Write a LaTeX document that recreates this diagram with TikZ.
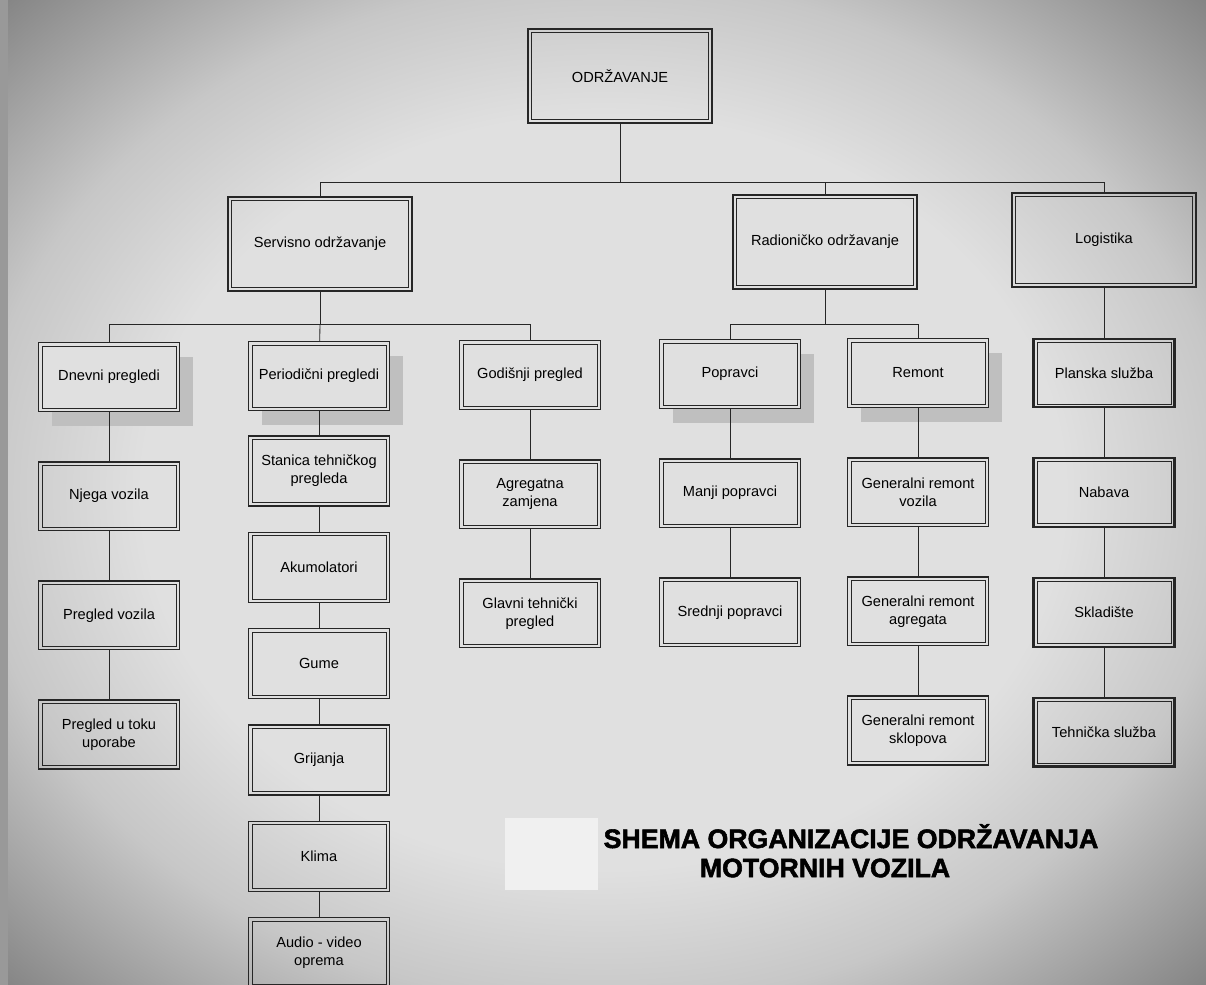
\documentclass[tikz,border=0pt]{standalone}
\usepackage{fontspec}
\setmainfont{Liberation Sans}
\newfontfamily\titlefont[FakeBold=2]{Liberation Sans Bold}
\usepackage{tikz}
\usetikzlibrary{positioning,calc,shadows}

\definecolor{pagein}{gray}{0.88}
\definecolor{pagemid}{gray}{0.78}
\definecolor{pageout}{gray}{0.50}
\pgfdeclareradialshading{vignette}{\pgfpoint{0bp}{0bp}}{color(0bp)=(pagein); color(19bp)=(pagein); color(26bp)=(pagemid); color(36bp)=(pageout); color(50bp)=(pageout)}

\newcommand{\boxfont}{\fontsize{10.4}{12.8}\selectfont}
\newcommand{\titlesize}{\fontsize{19}{24}\selectfont}

\tikzstyle{line} = [draw,line width=0.6pt,black!85]
\tikzstyle{box} = [rectangle,draw=black!85,line width=1.1pt,minimum width=3.525cm,minimum height=1.72cm,inner sep=2pt,align=center,font=\boxfont,
  path picture={\draw[line width=0.45pt,black!85] ([shift={(2.4pt,2.4pt)}]path picture bounding box.south west) rectangle ([shift={(-2.4pt,-2.4pt)}]path picture bounding box.north east);}]
\tikzstyle{bigbox} = [box,minimum width=4.6cm,minimum height=2.35cm]
\tikzstyle{tallbox} = [box,minimum height=1.75cm]
\tikzstyle{heavybox} = [box,line width=1.5pt]
\tikzstyle{withshadow} = [fill=pagein,drop shadow={shadow xshift=0.33cm,shadow yshift=-0.37cm,fill=black!25,opacity=1}]

\begin{document}
\begin{tikzpicture}[auto,node distance=1.22cm]
  \useasboundingbox (0,0) rectangle (30.15,-24.625);
  \fill[shading=vignette] (0,0) rectangle (30.15,-24.625);
  \fill[black!40] (0,0) rectangle (0.2,-24.625);
  \fill[black!6] (12.625,-20.45) rectangle (14.95,-22.25);

  % top levels
  \node[bigbox] (main) at (15.5,-1.9) {ODRŽAVANJE};
  \node[bigbox] (group1) at (8.0,-6.1) {Servisno održavanje};
  \node[bigbox] (group2) at (20.625,-6.05) {Radioničko održavanje};
  \node[bigbox,line width=1.5pt] (group3) at (27.6,-6.0) {Logistika};
  \coordinate[below = 1.475cm of main] (bus1);
  \draw[line] (main) -- (bus1) -| (group1.north);
  \draw[line] (bus1) -| (group2.north);
  \draw[line] (bus1) -| (group3.north);

  % second row
  \node[box,withshadow] (dnev1) at (2.725,-9.425) {Dnevni pregledi};
  \node[box,withshadow] (period1) at (7.975,-9.4) {Periodični pregledi};
  \node[box] (godis1) at (13.25,-9.375) {Godišnji pregled};
  \node[box,withshadow] (poprav1) at (18.25,-9.35) {Popravci};
  \node[box,withshadow] (remont1) at (22.95,-9.325) {Remont};
  \node[heavybox] (logist1) at (27.6,-9.325) {Planska služba} edge [line] (group3);
  \coordinate[below = 0.825cm of group1] (bus2);
  \draw[line] (group1) -- (bus2) -| (dnev1.north);
  \draw[line] (bus2) -| (godis1.north);
  \draw[line] (bus2) -- (period1);
  \coordinate[below = 0.875cm of group2] (bus3);
  \draw[line] (group2) -- (bus3) -| (poprav1.north);
  \draw[line] (bus3) -| (remont1.north);

  % columns
  \node[box] (dnev2) [below = of dnev1] {Njega vozila} edge [line] (dnev1);
  \node[box] (dnev3) [below = of dnev2] {Pregled vozila} edge [line] (dnev2);
  \node[box] (dnev4) [below = of dnev3] {Pregled u toku\\uporabe} edge [line] (dnev3);

  \node[tallbox] (period2) [below = 0.6cm of period1] {Stanica tehničkog\\pregleda} edge [line] (period1);
  \node[tallbox] (period3) [below = 0.62cm of period2] {Akumolatori} edge [line] (period2);
  \node[tallbox] (period4) [below = 0.62cm of period3] {Gume} edge [line] (period3);
  \node[tallbox] (period5) [below = 0.62cm of period4] {Grijanja} edge [line] (period4);
  \node[tallbox] (period6) [below = 0.62cm of period5] {Klima} edge [line] (period5);
  \node[tallbox] (period7) [below = 0.62cm of period6] {Audio - video\\oprema} edge [line] (period6);

  \node[box] (godis2) [below = of godis1] {Agregatna\\zamjena} edge [line] (godis1);
  \node[box] (godis3) [below = of godis2] {Glavni tehnički\\pregled} edge [line] (godis2);

  \node[box] (poprav2) [below = of poprav1] {Manji popravci} edge [line] (poprav1);
  \node[box] (poprav3) [below = of poprav2] {Srednji popravci} edge [line] (poprav2);

  \node[box] (remont2) [below = of remont1] {Generalni remont\\vozila} edge [line] (remont1);
  \node[box] (remont3) [below = of remont2] {Generalni remont\\agregata} edge [line] (remont2);
  \node[box] (remont4) [below = of remont3] {Generalni remont\\sklopova} edge [line] (remont3);

  \node[heavybox] (logist2) [below = of logist1] {Nabava} edge [line] (logist1);
  \node[heavybox] (logist3) [below = of logist2] {Skladište} edge [line] (logist2);
  \node[heavybox] (logist4) [below = of logist3] {Tehnička služba} edge [line] (logist3);

  % title
  \node[font=\titlefont\titlesize,anchor=base] (title1) at (21.275,-21.2) {SHEMA ORGANIZACIJE ODRŽAVANJA};
  \node[font=\titlefont\titlesize,anchor=base] (title2) at (20.625,-21.93) {MOTORNIH VOZILA};
\end{tikzpicture}
\end{document}
